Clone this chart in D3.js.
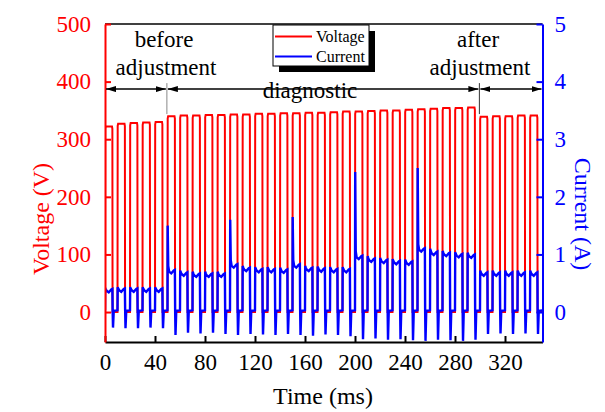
<!DOCTYPE html>
<html>
<head>
<meta charset="utf-8">
<script src="https://cdn.jsdelivr.net/npm/d3@7"></script>
<style>
  body { margin: 0; background: #fff; }
  svg text { font-family: "Liberation Serif", "Times New Roman", "DejaVu Serif", serif !important; }
</style>
</head>
<body>
<svg id="chart" width="605" height="412"></svg>
<script>
// pulse train, one entry per 10 ms pulse
const pulseStart = [0, 10, 20, 30, 40, 50, 60, 70, 80, 90, 100, 110, 120, 130, 140, 150, 160, 170,
  180, 190, 200, 210, 220, 230, 240, 250, 260, 270, 280, 290, 300, 310, 320, 330, 340];
const voltHigh = [322, 327, 328, 329, 330, 340, 341, 341, 342, 342, 343, 343, 344, 344, 345, 345, 346, 346,
  347, 348, 348, 349, 350, 350, 351, 352, 353, 354, 354, 355, 339, 340, 340, 341, 341];
const currPlateau = [0.37, 0.38, 0.38, 0.38, 0.38, 0.70, 0.66, 0.64, 0.64, 0.64, 0.80, 0.74, 0.72, 0.72, 0.71,
  0.80, 0.74, 0.73, 0.72, 0.72, 0.95, 0.90, 0.88, 0.86, 0.85, 1.08, 1.02, 1.00, 0.98, 0.97,
  0.66, 0.66, 0.66, 0.66, 0.66];
const currPeak = [0.42, 0.43, 0.43, 0.43, 0.43, 1.50, 0.72, 0.70, 0.70, 0.70, 1.60, 0.80, 0.78, 0.78, 0.77,
  1.65, 0.80, 0.79, 0.78, 0.78, 2.43, 0.97, 0.94, 0.92, 0.91, 2.50, 1.10, 1.06, 1.04, 1.03,
  0.72, 0.72, 0.72, 0.72, 0.72];
const currDip = [-0.27, -0.28, -0.28, -0.27, -0.28, -0.40, -0.36, -0.37, -0.36, -0.38, -0.40, -0.38, -0.39, -0.40, -0.38,
  -0.40, -0.41, -0.39, -0.40, -0.42, -0.47, -0.46, -0.48, -0.47, -0.49, -0.50, -0.48, -0.49, -0.50, -0.48,
  -0.38, -0.37, -0.38, -0.37, -0.38];

const xTicks = [0, 40, 80, 120, 160, 200, 240, 280, 320];
const vTicks = [0, 100, 200, 300, 400, 500];
const iTicks = [0, 1, 2, 3, 4, 5];
const sections = [
  { from: 0, to: 49.5, lines: ["before", "adjustment"], cx: 166 },
  { from: 49.5, to: 299.5, lines: ["diagnostic"], cx: 310 },
  { from: 299.5, to: 350, lines: ["after", "adjustment"], cx: 480 }
];

const RED = "#ff0000", BLUE = "#0000ff";
const FONT = "'Liberation Serif', 'Times New Roman', 'DejaVu Serif', serif";
const svg = d3.select("#chart");

const x = d3.scaleLinear().domain([0, 350]).range([105, 542.5]);
const yV = d3.scaleLinear().domain([-52, 500]).range([342, 24]);
const yI = d3.scaleLinear().domain([-0.52, 5]).range([342, 24]);

svg.append("clipPath").attr("id", "plotclip")
  .append("rect").attr("x", 105).attr("y", 24).attr("width", 437.5).attr("height", 318);

// build the step traces from the per-pulse readings
const HIGH = 5.9;
let vPts = [], cPts = [];
pulseStart.forEach((t0, i) => {
  vPts.push([t0, 0], [t0 + 0.15, voltHigh[i] - 4], [t0 + 0.5, voltHigh[i]], [t0 + HIGH - 0.3, voltHigh[i]],
    [t0 + HIGH, voltHigh[i] - 4], [t0 + HIGH + 0.15, 0]);
  let p = currPlateau[i];
  let shoulder = currPeak[i] - p > 0.3 ? p + 0.1 : (currPeak[i] + p) / 2;
  cPts.push([t0, 0.03], [t0 + 0.15, currPeak[i]], [t0 + 0.6, shoulder], [t0 + 1.3, p],
    [t0 + 3.0, p - 0.03], [t0 + 5.0, p + 0.02], [t0 + HIGH, p + 0.03],
    [t0 + HIGH + 0.2, 0.05], [t0 + HIGH + 0.5, currDip[i]], [t0 + HIGH + 1.1, 0.02]);
});
vPts.push([350, 0]);
cPts.push([350, 0.03]);

const plot = svg.append("g").attr("clip-path", "url(#plotclip)");
plot.append("path")
  .attr("d", d3.line().x(d => x(d[0])).y(d => yV(d[1]))(vPts))
  .attr("fill", "none").attr("stroke", RED).attr("stroke-width", 2);
plot.append("path")
  .attr("d", d3.line().x(d => x(d[0])).y(d => yI(d[1]))(cPts))
  .attr("fill", "none").attr("stroke", BLUE).attr("stroke-width", 2.4);

// frame
svg.append("line").attr("x1", 105).attr("x2", 542.5).attr("y1", 24).attr("y2", 24)
  .attr("stroke", "#000").attr("stroke-width", 1.5);

// bottom axis
const gx = svg.append("g").attr("transform", "translate(0,342)");
gx.call(d3.axisBottom(x).tickValues(d3.range(20, 350, 40)).tickSize(-4).tickSizeOuter(0).tickFormat(""));
gx.call(d3.axisBottom(x).tickValues(xTicks).tickSize(-6).tickSizeOuter(0).tickPadding(12));
gx.selectAll("path.domain").attr("stroke", "#000").attr("stroke-width", 2);
gx.selectAll("line").attr("stroke", "#000").attr("stroke-width", 2);
gx.selectAll("text").attr("font-size", 23).attr("fill", "#000");

// left axis (voltage)
const gl = svg.append("g").attr("transform", "translate(105,0)");
gl.call(d3.axisLeft(yV).tickValues(d3.range(50, 500, 100)).tickSize(-4).tickSizeOuter(0).tickFormat(""));
gl.call(d3.axisLeft(yV).tickValues(vTicks).tickSize(-6).tickSizeOuter(0).tickPadding(14));
gl.selectAll("path.domain").attr("stroke", RED).attr("stroke-width", 2);
gl.selectAll("line").attr("stroke", RED).attr("stroke-width", 2);
gl.selectAll("text").attr("font-size", 23).attr("fill", RED);

// right axis (current)
const gr = svg.append("g").attr("transform", "translate(542.5,0)");
gr.call(d3.axisRight(yI).tickValues(d3.range(0.5, 5, 1)).tickSize(-4).tickSizeOuter(0).tickFormat(""));
gr.call(d3.axisRight(yI).tickValues(iTicks).tickSize(-6).tickSizeOuter(0).tickPadding(12).tickFormat(d3.format("d")));
gr.selectAll("path.domain").attr("stroke", BLUE).attr("stroke-width", 2);
gr.selectAll("line").attr("stroke", BLUE).attr("stroke-width", 2);
gr.selectAll("text").attr("font-size", 23).attr("fill", BLUE);

[gx, gl, gr].forEach(g => g.attr("font-family", FONT));

// axis titles
svg.append("text").attr("transform", "translate(49,219) rotate(-90)")
  .attr("text-anchor", "middle").attr("font-size", 24).attr("fill", RED).text("Voltage (V)");
svg.append("text").attr("transform", "translate(575,214) rotate(90)")
  .attr("text-anchor", "middle").attr("font-size", 24).attr("fill", BLUE).text("Current (A)");
svg.append("text").attr("x", 323).attr("y", 404)
  .attr("text-anchor", "middle").attr("font-size", 24).attr("fill", "#000").text("Time (ms)");

// section annotations
const defs = svg.append("defs");
defs.append("marker").attr("id", "arr")
  .attr("viewBox", "0 0 10 6").attr("refX", 10).attr("refY", 3)
  .attr("markerWidth", 10).attr("markerHeight", 6)
  .attr("markerUnits", "userSpaceOnUse").attr("orient", "auto-start-reverse")
  .append("path").attr("d", "M0,0L10,3L0,6Z").attr("fill", "#000");

const arrowY = yV(387);
[49.5, 299.5].forEach((t, i) => {
  svg.append("line").attr("x1", x(t)).attr("x2", x(t)).attr("y1", arrowY - 6).attr("y2", arrowY + 25)
    .attr("stroke", i == 0 ? "#888" : "#333").attr("stroke-width", 1);
});
sections.forEach(s => {
  svg.append("line")
    .attr("x1", x(s.from) + 1).attr("x2", x(s.to) - 1)
    .attr("y1", arrowY).attr("y2", arrowY)
    .attr("stroke", "#000").attr("stroke-width", 1.5)
    .attr("marker-start", "url(#arr)").attr("marker-end", "url(#arr)");
  if (s.lines.length == 2) {
    svg.append("text").attr("x", s.cx - 2).attr("y", 47).attr("text-anchor", "middle")
      .attr("font-size", 23).text(s.lines[0]);
    svg.append("text").attr("x", s.cx).attr("y", 75).attr("text-anchor", "middle")
      .attr("font-size", 23).text(s.lines[1]);
  } else {
    svg.append("text").attr("x", s.cx).attr("y", 98).attr("text-anchor", "middle")
      .attr("font-size", 23).text(s.lines[0]);
  }
});

// legend with drop shadow
const leg = svg.append("g");
leg.append("rect").attr("x", 279).attr("y", 31).attr("width", 96).attr("height", 41).attr("fill", "#000");
leg.append("rect").attr("x", 273).attr("y", 25).attr("width", 96).attr("height", 41)
  .attr("fill", "#fff").attr("stroke", "#000").attr("stroke-width", 1);
[["Voltage", RED], ["Current", BLUE]].forEach((d, i) => {
  leg.append("line").attr("x1", 275).attr("x2", 312).attr("y1", 36.5 + i * 20).attr("y2", 36.5 + i * 20)
    .attr("stroke", d[1]).attr("stroke-width", 2);
  leg.append("text").attr("x", 316).attr("y", 42 + i * 20).attr("font-size", 16).text(d[0]);
});
</script>
</body>
</html>
